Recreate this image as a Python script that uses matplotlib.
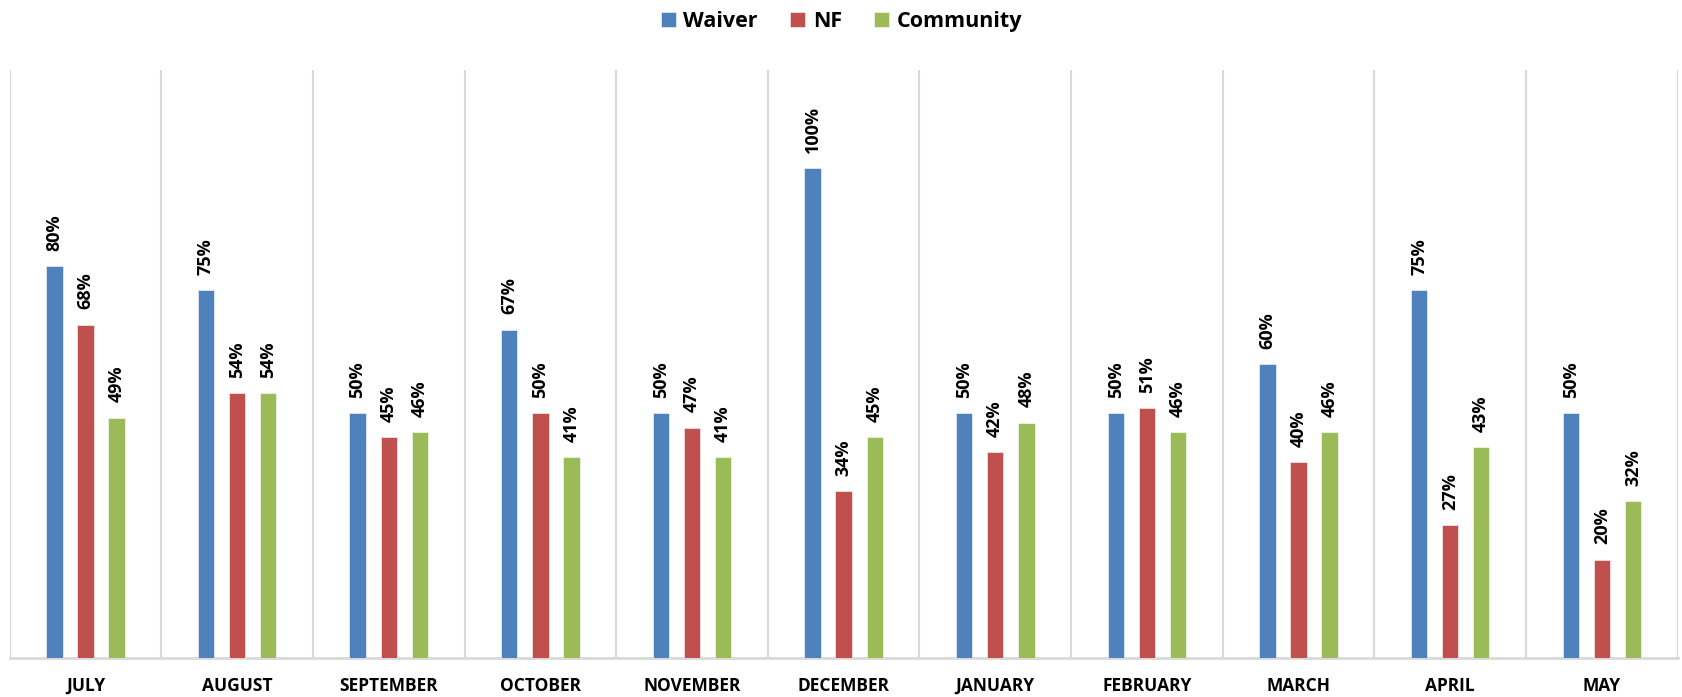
import numpy as np
import matplotlib
matplotlib.use("Agg")
import matplotlib.pyplot as plt

plt.rcParams['font.family'] = ['Open Sans', 'DejaVu Sans']

months = ["JULY", "AUGUST", "SEPTEMBER", "OCTOBER", "NOVEMBER", "DECEMBER",
          "JANUARY", "FEBRUARY", "MARCH", "APRIL", "MAY"]
waiver = [80, 75, 50, 67, 50, 100, 50, 50, 60, 75, 50]
nf = [68, 54, 45, 50, 47, 34, 42, 51, 40, 27, 20]
community = [49, 54, 46, 41, 41, 45, 48, 46, 46, 43, 32]

series = [("Waiver", waiver, "#4F81BD"),
          ("NF", nf, "#C0504D"),
          ("Community", community, "#9BBB59")]

fig = plt.figure(figsize=(16.83, 6.97), dpi=100)
ax = fig.add_axes([0.0057, 0.0564, 0.9911, 0.8432])

x = np.arange(len(months))
offsets = [-0.205, 0.0, 0.205]
width = 0.108

for (name, vals, color), off in zip(series, offsets):
    bars = ax.bar(x + off, [v / 100 for v in vals], width, color=color,
                  edgecolor="white", linewidth=0.4, label=name, zorder=3)
    for b, v in zip(bars, vals):
        ax.annotate(f"{v}%", (b.get_x() + b.get_width() / 2, b.get_height()),
                    xytext=(0, 11), textcoords="offset points",
                    rotation=90, ha="center", va="bottom",
                    fontsize=13, fontweight="bold")

ax.set_xlim(-0.5, len(months) - 0.5)
ax.set_ylim(0, 1.2)
ax.set_yticks([])
ax.set_xticks(x)
ax.set_xticklabels(months, fontsize=12.5, fontweight="bold")
ax.tick_params(axis="x", length=0, pad=14)

# category separators
for b in np.arange(-0.5, len(months), 1.0):
    ax.axvline(b, color="#D9D9D9", linewidth=1.5, zorder=1)

for s in ["top", "right", "left"]:
    ax.spines[s].set_visible(False)
ax.spines["bottom"].set_color("#D9D9D9")
ax.spines["bottom"].set_linewidth(2)

fig.legend(loc="upper center", bbox_to_anchor=(0.5, 1.012), ncol=3,
           frameon=False, prop={"weight": "bold", "size": 15.5},
           handlelength=0.7, handleheight=0.7, handletextpad=0.35,
           columnspacing=1.5)

fig.savefig("out.png", dpi=100)
